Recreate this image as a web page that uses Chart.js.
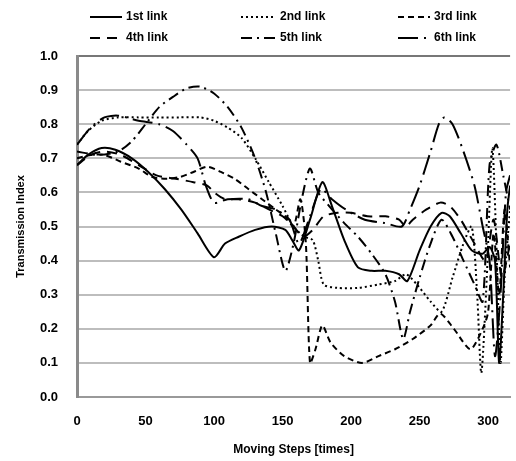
<!DOCTYPE html>
<html>
<head>
<meta charset="utf-8">
<script src="https://cdn.jsdelivr.net/npm/chart.js@4/dist/chart.umd.min.js"></script>
<style>
  html, body { margin: 0; padding: 0; background: #fff; }
  #wrap { width: 516px; height: 461px; }
</style>
</head>
<body>
<div id="wrap"><canvas id="linkChart" width="516" height="461"></canvas></div>
<script>
const FONT = "'Liberation Sans Narrow', 'Liberation Sans', Arial, sans-serif";

const linkNames = ['1st link', '2nd link', '3rd link', '4th link', '5th link', '6th link'];
const xTicks = [0, 50, 100, 150, 200, 250, 300];
const yTicks = [0, 0.1, 0.2, 0.3, 0.4, 0.5, 0.6, 0.7, 0.8, 0.9, 1.0];

const link1Steps = [0, 8, 18, 28, 40, 52, 64, 76, 88, 100, 108, 118, 130, 142, 152, 157, 162, 170, 179, 186, 195, 205, 215, 225, 235, 241, 250, 258, 266, 272, 280, 288, 296, 301, 305, 308, 311, 314, 316];
const link1Index = [0.68, 0.71, 0.73, 0.725, 0.70, 0.66, 0.61, 0.55, 0.48, 0.41, 0.45, 0.47, 0.49, 0.50, 0.49, 0.46, 0.43, 0.52, 0.63, 0.56, 0.46, 0.38, 0.37, 0.37, 0.36, 0.34, 0.43, 0.50, 0.54, 0.53, 0.48, 0.43, 0.42, 0.44, 0.40, 0.10, 0.30, 0.55, 0.62];

const link2Steps = [0, 8, 18, 30, 45, 60, 75, 90, 100, 110, 120, 130, 140, 150, 158, 166, 172, 176, 180, 190, 205, 220, 232, 240, 248, 258, 266, 274, 282, 288, 292, 295, 299, 303, 306, 309, 312, 316];
const link2Index = [0.74, 0.78, 0.81, 0.82, 0.82, 0.82, 0.82, 0.82, 0.81, 0.79, 0.76, 0.70, 0.63, 0.56, 0.50, 0.47, 0.46, 0.40, 0.33, 0.32, 0.32, 0.33, 0.34, 0.36, 0.33, 0.28, 0.25, 0.35, 0.45, 0.50, 0.30, 0.07, 0.35, 0.73, 0.45, 0.10, 0.35, 0.55];

const link3Steps = [0, 10, 20, 32, 45, 55, 65, 75, 85, 95, 105, 115, 125, 135, 145, 152, 158, 163, 167, 170, 174, 179, 185, 195, 208, 220, 232, 245, 258, 265, 275, 287, 296, 300, 304, 308, 312, 316];
const link3Index = [0.70, 0.71, 0.71, 0.69, 0.67, 0.645, 0.64, 0.645, 0.66, 0.675, 0.66, 0.64, 0.61, 0.58, 0.55, 0.53, 0.50, 0.58, 0.45, 0.10, 0.14, 0.21, 0.16, 0.12, 0.10, 0.12, 0.14, 0.17, 0.21, 0.245, 0.20, 0.14, 0.20, 0.25, 0.48, 0.30, 0.55, 0.38];

const link4Steps = [0, 10, 20, 32, 45, 58, 72, 85, 95, 100, 108, 118, 130, 140, 150, 158, 165, 172, 180, 190, 200, 212, 225, 235, 240, 245, 255, 265, 272, 280, 290, 298, 304, 310, 316];
const link4Index = [0.68, 0.71, 0.72, 0.71, 0.68, 0.65, 0.64, 0.63, 0.62, 0.60, 0.58, 0.58, 0.57, 0.55, 0.53, 0.50, 0.47, 0.49, 0.53, 0.54, 0.54, 0.53, 0.53, 0.52, 0.50, 0.52, 0.55, 0.57, 0.56, 0.52, 0.45, 0.40, 0.52, 0.35, 0.45];

const link5Steps = [0, 15, 30, 40, 50, 60, 70, 80, 90, 100, 110, 120, 130, 138, 145, 152, 158, 164, 170, 176, 184, 195, 205, 215, 225, 232, 238, 243, 250, 258, 266, 274, 282, 290, 296, 301, 306, 311, 316];
const link5Index = [0.72, 0.71, 0.72, 0.75, 0.80, 0.85, 0.88, 0.905, 0.91, 0.89, 0.85, 0.79, 0.70, 0.60, 0.48, 0.37, 0.45, 0.58, 0.67, 0.60, 0.56, 0.51, 0.47, 0.42, 0.36, 0.28, 0.17, 0.25, 0.35, 0.45, 0.52, 0.47, 0.40, 0.33, 0.28, 0.68, 0.74, 0.65, 0.55];

const link6Steps = [0, 10, 20, 30, 45, 60, 70, 80, 88, 94, 100, 110, 125, 135, 145, 155, 162, 170, 178, 186, 196, 210, 225, 237, 243, 250, 258, 264, 268, 274, 282, 290, 296, 301, 305, 309, 313, 316];
const link6Index = [0.74, 0.79, 0.82, 0.825, 0.81, 0.80, 0.78, 0.74, 0.70, 0.62, 0.57, 0.58, 0.58, 0.56, 0.55, 0.52, 0.45, 0.53, 0.61, 0.58, 0.55, 0.52, 0.51, 0.50, 0.55, 0.62, 0.72, 0.80, 0.82, 0.80, 0.72, 0.62, 0.50, 0.40, 0.12, 0.30, 0.60, 0.65];

const allSteps = [link1Steps, link2Steps, link3Steps, link4Steps, link5Steps, link6Steps];
const allIndex = [link1Index, link2Index, link3Index, link4Index, link5Index, link6Index];
const dashes = [[], [2, 3], [6, 4], [10, 7], [11, 5, 2, 5], [20, 6, 2, 6]];

function toPoints(xs, ys) {
    return xs.map((x, i) => ({ x: x, y: ys[i] }));
}

const datasets = linkNames.map((name, i) => ({
    label: name,
    data: toPoints(allSteps[i], allIndex[i]),
    borderColor: '#000',
    borderWidth: 2,
    borderDash: dashes[i],
    pointRadius: 0,
    tension: 0.25,
    fill: false
}));

// legend drawn in two rows of three, like the original
const gridLegend = {
    id: 'gridLegend',
    afterDraw(chart) {
        const ctx = chart.ctx;
        const cols = [{ line: 90, text: 126 }, { line: 241, text: 280 }, { line: 398, text: 434 }];
        const rows = [17, 38];
        ctx.save();
        ctx.font = "bold 12px " + FONT;
        ctx.fillStyle = '#000';
        ctx.textBaseline = 'middle';
        chart.data.datasets.forEach((ds, i) => {
            const c = cols[i % 3];
            const y = rows[Math.floor(i / 3)];
            ctx.beginPath();
            ctx.setLineDash(ds.borderDash);
            ctx.lineWidth = 2;
            ctx.strokeStyle = '#000';
            ctx.moveTo(c.line, y);
            ctx.lineTo(c.text - 4, y);
            ctx.stroke();
            ctx.setLineDash([]);
            ctx.fillText(ds.label, c.text, y);
        });
        ctx.restore();
    }
};

new Chart(document.getElementById('linkChart').getContext('2d'), {
    type: 'line',
    data: { datasets: datasets },
    options: {
        responsive: false,
        animation: false,
        layout: { padding: { top: 56, right: 0, left: 0, bottom: 0 } },
        plugins: {
            legend: { display: false },
            tooltip: { enabled: false }
        },
        scales: {
            x: {
                type: 'linear',
                min: 0,
                max: 316,
                afterFit: s => { s.height = 64; },
                afterBuildTicks: s => { s.ticks = xTicks.map(v => ({ value: v })); },
                ticks: {
                    font: { family: FONT, size: 13, weight: 'bold' },
                    color: '#000',
                    padding: 17,
                    maxRotation: 0
                },
                grid: { display: false, drawTicks: false },
                border: { display: true, color: '#999', width: 2 },
                title: {
                    display: true,
                    text: 'Moving Steps [times]',
                    font: { family: FONT, size: 12, weight: 'bold' },
                    color: '#000',
                    padding: { top: 0, bottom: 4 }
                }
            },
            y: {
                min: 0,
                max: 1,
                afterFit: s => { s.width = 77; },
                afterBuildTicks: s => { s.ticks = yTicks.map(v => ({ value: v })); },
                ticks: {
                    font: { family: FONT, size: 13, weight: 'bold' },
                    color: '#000',
                    padding: 19,
                    callback: v => v.toFixed(1)
                },
                grid: {
                    drawTicks: false,
                    lineWidth: 2,
                    color: c => (c.tick && c.tick.value === 1 ? '#777' : '#bdbdbd')
                },
                border: { display: true, color: '#8a8a8a', width: 3 },
                title: {
                    display: true,
                    text: 'Transmission Index',
                    font: { family: FONT, size: 11, weight: 'bold' },
                    color: '#000',
                    padding: { top: 14, bottom: 0 }
                }
            }
        }
    },
    plugins: [gridLegend]
});
</script>
</body>
</html>
